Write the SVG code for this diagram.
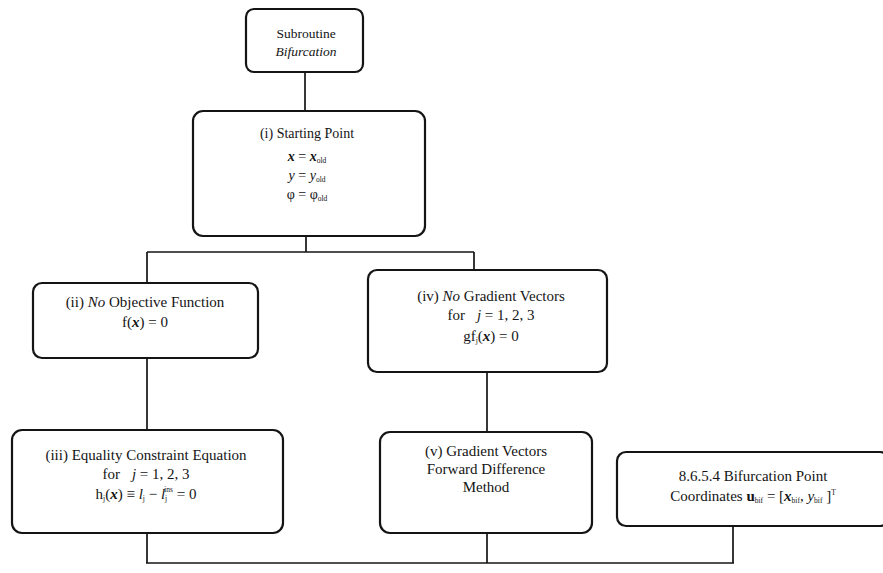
<svg xmlns="http://www.w3.org/2000/svg" width="883" height="573" viewBox="0 0 883 573">
  <style>
    .box { fill: #fff; stroke: #141414; stroke-width: 2.2; }
    .wire { fill: none; stroke: #141414; stroke-width: 1.7; }
    text { font-family: "Liberation Serif", "Times New Roman", serif; font-size: 15px; fill: #141414; text-anchor: middle; }
    .small { font-size: 13.5px; }
    .mid { font-size: 14px; }
    .it { font-style: italic; }
    .bi { font-style: italic; font-weight: bold; }
    .sub { font-size: 7.5px; }
    .sup { font-size: 7.5px; }
  </style>

  <!-- connectors -->
  <g id="connectors">
    <path class="wire" d="M305 72 V111"/>
    <path class="wire" d="M306 236 V252 M147 252 H474 M147 252 V283 M474 252 V270"/>
    <path class="wire" d="M147 358 V430"/>
    <path class="wire" d="M487 372 V432"/>
    <path class="wire" d="M147 533 V563 M487 533 V563 M733 526 V563"/>
    <path class="wire" stroke-width="2.2" d="M146 563 H734"/>
  </g>

  <!-- subroutine header -->
  <g id="subroutine">
    <rect class="box" x="246" y="9" width="117" height="63" rx="8"/>
    <text x="306" y="38" class="small">Subroutine</text>
    <text x="306" y="56" class="small it">Bifurcation</text>
  </g>

  <!-- (i) starting point -->
  <g id="starting-point">
    <rect class="box" x="193" y="111" width="232" height="125" rx="10"/>
    <text x="307" y="138" class="mid">(i) Starting Point</text>
    <text x="307" y="161" class="mid"><tspan class="bi">x</tspan> = <tspan class="bi">x</tspan><tspan class="sub" dy="2">old</tspan></text>
    <text x="307" y="180" class="mid"><tspan class="it">y</tspan> = <tspan class="it">y</tspan><tspan class="sub" dy="2">old</tspan></text>
    <text x="307" y="199" class="mid">φ = φ<tspan class="sub" dy="2">old</tspan></text>
  </g>

  <!-- (ii) objective function -->
  <g id="objective">
    <rect class="box" x="33" y="283" width="225" height="75" rx="9"/>
    <text x="145" y="307">(ii) <tspan class="it">No</tspan> Objective Function</text>
    <text x="145" y="327">f(<tspan class="bi">x</tspan>) = 0</text>
  </g>

  <!-- (iv) gradient vectors, none -->
  <g id="no-gradient">
    <rect class="box" x="368" y="270" width="239" height="102" rx="9"/>
    <text x="491" y="301">(iv) <tspan class="it">No</tspan> Gradient Vectors</text>
    <text x="491" y="320">for<tspan dx="12" class="it">j</tspan> = 1, 2, 3</text>
    <text x="491" y="341">gf<tspan class="sub" dy="2">j</tspan><tspan dy="-2">(</tspan><tspan class="bi">x</tspan>) = 0</text>
  </g>

  <!-- (iii) equality constraint -->
  <g id="equality">
    <rect class="box" x="12" y="430" width="271" height="103" rx="10"/>
    <text x="146" y="460">(iii) Equality Constraint Equation</text>
    <text x="146" y="479">for<tspan dx="12" class="it">j</tspan> = 1, 2, 3</text>
    <text x="146" y="499">h<tspan class="sub" dy="2">j</tspan><tspan dy="-2">(</tspan><tspan class="bi">x</tspan>) ≡ <tspan class="it">l</tspan><tspan class="sub" dy="2">j</tspan><tspan dy="-2"> − </tspan><tspan class="it">l</tspan><tspan class="sub" dy="2">j</tspan><tspan class="sup" dx="-3" dy="-9">ins</tspan><tspan dy="7"> = 0</tspan></text>
  </g>

  <!-- (v) forward difference gradients -->
  <g id="forward-difference">
    <rect class="box" x="380" y="432" width="212" height="101" rx="10"/>
    <text x="486" y="456">(v) Gradient Vectors</text>
    <text x="486" y="474">Forward Difference</text>
    <text x="486" y="492">Method</text>
  </g>

  <!-- bifurcation point result -->
  <g id="bifurcation-point">
    <rect class="box" x="617" y="452" width="272" height="74" rx="9"/>
    <text x="753" y="481">8.6.5.4 Bifurcation Point</text>
    <text x="753" y="501">Coordinates <tspan font-weight="bold">u</tspan><tspan class="sub" dy="2">bif</tspan><tspan dy="-2"> = [</tspan><tspan class="bi">x</tspan><tspan class="sub" dy="2">bif</tspan><tspan dy="-2">, </tspan><tspan class="it">y</tspan><tspan class="sub" dy="2">bif</tspan><tspan dy="-2"> ]</tspan><tspan class="sup" dy="-6">T</tspan></text>
  </g>
</svg>
